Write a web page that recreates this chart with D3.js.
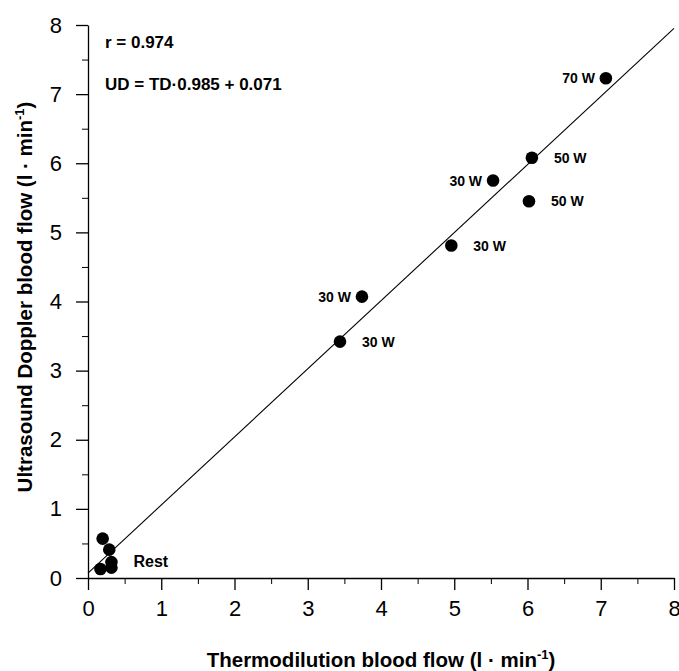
<!DOCTYPE html>
<html>
<head>
<meta charset="utf-8">
<script src="https://cdn.jsdelivr.net/npm/d3@7"></script>
<style>
  body { margin: 0; background: #fff; }
  svg { display: block; font-family: "Liberation Sans", Arial, sans-serif; }
</style>
</head>
<body>
<div id="chart"></div>
<script>
// measured flows (l/min), thermodilution vs ultrasound doppler
var tdFlow = [0.20, 0.29, 0.32, 0.32, 0.17, 3.44, 3.74, 4.96, 5.53, 6.02, 6.06, 7.07];
var udFlow = [0.57, 0.41, 0.23, 0.15, 0.13, 3.42, 4.07, 4.81, 5.75, 5.45, 6.08, 7.23];
var pointLabels = ["", "", "", "Rest", "", "30 W", "30 W", "30 W", "30 W", "50 W", "50 W", "70 W"];
var labelSide   = ["", "", "", "right", "", "right", "left", "right", "left", "right", "right", "left"];
var axisTicks = [0, 1, 2, 3, 4, 5, 6, 7, 8];
var fitSlope = 0.985, fitIntercept = 0.071;
var statLines = ["r = 0.974", "UD = TD\u00b70.985 + 0.071"];

var W = 679, H = 671;
var x0 = 88, x1 = 674, y0 = 578, y1 = 25;

var svg = d3.select("#chart").append("svg").attr("width", W).attr("height", H);

var x = d3.scaleLinear().domain([0, 8]).range([x0, x1]);
var y = d3.scaleLinear().domain([0, 8]).range([y0, y1]);
var minor = d3.range(0.5, 8, 1);

// minor ticks first, then major axes
svg.append("g").attr("transform", "translate(0," + y0 + ")")
  .call(d3.axisBottom(x).tickValues(minor).tickSize(6).tickFormat(""))
  .call(function(g) { g.select(".domain").remove(); });
svg.append("g").attr("transform", "translate(" + x0 + ",0)")
  .call(d3.axisLeft(y).tickValues(minor).tickSize(6).tickFormat(""))
  .call(function(g) { g.select(".domain").remove(); });

var xAxis = svg.append("g").attr("transform", "translate(0," + y0 + ")")
  .call(d3.axisBottom(x).tickValues(axisTicks).tickSize(12).tickSizeOuter(0).tickPadding(10));
var yAxis = svg.append("g").attr("transform", "translate(" + x0 + ",0)")
  .call(d3.axisLeft(y).tickValues(axisTicks).tickSize(12).tickSizeOuter(0).tickPadding(14));

[xAxis, yAxis].forEach(function(g) {
  g.selectAll("path, line").attr("stroke", "#000").attr("stroke-width", 1.3);
  g.selectAll("text").attr("font-size", 22).attr("fill", "#000")
    .attr("font-family", "'Liberation Sans', Arial, sans-serif");
});

// regression line
svg.append("line")
  .attr("x1", x(0)).attr("y1", y(fitIntercept))
  .attr("x2", x(8)).attr("y2", y(fitSlope * 8 + fitIntercept))
  .attr("stroke", "#000").attr("stroke-width", 1.1);

svg.append("g").selectAll("circle").data(tdFlow).enter().append("circle")
  .attr("cx", function(d) { return x(d); })
  .attr("cy", function(d, i) { return y(udFlow[i]); })
  .attr("r", 6.3)
  .attr("fill", "#000");

var lab = svg.append("g").attr("font-size", 14).attr("font-weight", "bold");
pointLabels.forEach(function(t, i) {
  if (!t) return;
  var right = labelSide[i] === "right";
  var txt = lab.append("text")
    .attr("x", x(tdFlow[i]) + (right ? 22 : -11))
    .attr("y", y(udFlow[i]) + 5)
    .attr("text-anchor", right ? "start" : "end")
    .text(t);
  // Rest label sits beside the cluster, a bit larger
  if (t === "Rest") txt.attr("y", y(udFlow[i]) - 1).attr("font-size", 16);
});

var stats = svg.append("g").attr("font-size", 17).attr("font-weight", "bold");
statLines.forEach(function(t, i) {
  stats.append("text").attr("x", 105).attr("y", 48 + i * 42).text(t);
});

function titleWithSup(sel, main) {
  sel.append("tspan").text(main);
  sel.append("tspan").attr("dy", -8).attr("font-size", 13).text("-1");
  sel.append("tspan").attr("dy", 8).text(")");
}

svg.append("text")
  .attr("x", 381).attr("y", 667)
  .attr("text-anchor", "middle")
  .attr("font-size", 20.5).attr("font-weight", "bold")
  .call(titleWithSup, "Thermodilution blood flow (l \u00b7 min");

svg.append("text")
  .attr("transform", "translate(32,297) rotate(-90)")
  .attr("text-anchor", "middle")
  .attr("font-size", 20.5).attr("font-weight", "bold")
  .call(titleWithSup, "Ultrasound Doppler blood flow (l \u00b7 min");
</script>
</body>
</html>
